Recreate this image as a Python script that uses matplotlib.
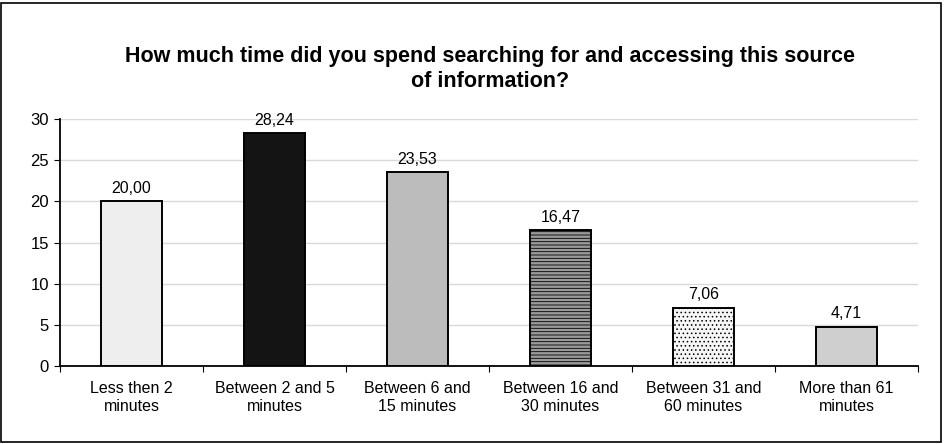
import matplotlib.pyplot as plt
from matplotlib.patches import Rectangle

plt.rcParams['font.family'] = ['Liberation Sans', 'DejaVu Sans']
plt.rcParams['hatch.color'] = '#333333'
plt.rcParams['hatch.linewidth'] = 0.6

categories = ["Less then 2\nminutes", "Between 2 and 5\nminutes", "Between 6 and\n15 minutes",
              "Between 16 and\n30 minutes", "Between 31 and\n60 minutes", "More than 61\nminutes"]
values = [20.00, 28.24, 23.53, 16.47, 7.06, 4.71]
value_labels = ["20,00", "28,24", "23,53", "16,47", "7,06", "4,71"]
yticks = [0, 5, 10, 15, 20, 25, 30]

fills = ["#eeeeee", "#141414", "#bcbcbc", "#9a9a9a", "#f6f6f6", "#cfcfcf"]
hatches = [None, None, None, "-----", "....", None]

fig = plt.figure(figsize=(9.45, 4.44), dpi=100)
fig.patches.append(Rectangle((1 / 945, 2 / 444), 940 / 945, 439 / 444, transform=fig.transFigure,
                             fill=False, edgecolor="black", linewidth=1.2))
ax = fig.add_axes([60 / 945, 1 - 366 / 444, 858 / 945, 247 / 444])

x = range(len(values))
for i, v in enumerate(values):
    ax.bar(i, v, width=0.42, color=fills[i], edgecolor="black", linewidth=1.4,
           hatch=hatches[i], zorder=3)
    ax.text(i, v + 0.7, value_labels[i], ha="center", va="bottom", fontsize=11.5)

ax.set_xlim(-0.5, 5.5)
ax.set_ylim(0, 30)
ax.set_yticks(yticks)
ax.tick_params(axis='y', labelsize=12, direction='out', length=4, pad=4)
ax.set_xticks([i + 0.5 for i in range(-1, 6)], minor=False)
ax.set_xticklabels([])
ax.set_xticks(list(x), minor=True)
ax.set_xticklabels(categories, minor=True, fontsize=11.5)
ax.tick_params(axis='x', which='minor', length=0, pad=11)
ax.tick_params(axis='x', which='major', length=4, direction='out')
ax.grid(axis='y', color='#d9d9d9', linewidth=1, zorder=0)
ax.set_axisbelow(True)
for s in ['top', 'right']:
    ax.spines[s].set_visible(False)
ax.spines['left'].set_linewidth(1.3)
ax.spines['bottom'].set_linewidth(1.3)

fig.text(490 / 945, 1 - 69 / 444,
         "How much time did you spend searching for and accessing this source\nof information?",
         ha="center", va="center", fontsize=15.5, fontweight="bold", linespacing=1.2)

fig.savefig("out.png", dpi=100)
